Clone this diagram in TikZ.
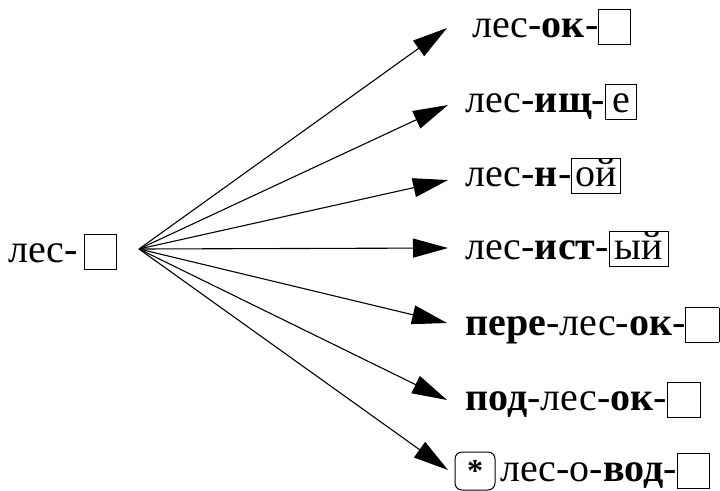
\documentclass[tikz,border=0pt]{standalone}
\usepackage{fontspec}
\setmainfont{Liberation Serif}
\usetikzlibrary{arrows.meta}
\newcommand\sqbox[2]{{\setlength\fboxsep{0pt}\setlength\fboxrule{0.9pt}\raisebox{-7pt}{\framebox[#1]{\rule{0pt}{34pt}\raisebox{7pt}{#2}}}}}
\newcommand\hy{-}
\begin{document}
\begin{tikzpicture}[x=1pt,y=-1pt,
  lbl/.style={anchor=base west,inner sep=0pt,font=\fontsize{40}{44}\selectfont},
  arr/.style={line width=1.1pt,-{Triangle[length=35pt,width=19pt]}},
  starbox/.style={draw,line width=1pt,rounded corners=7pt,minimum width=40pt,minimum height=38pt,inner sep=0pt,font=\fontsize{32}{32}\selectfont\bfseries}]
\useasboundingbox (0,0) rectangle (720,490);
\node[lbl] (src) at (8,262) {лес\hy\kern6pt\sqbox{33pt}{}};
\coordinate (o) at (139,249);
\node[lbl] (l1) at (472,37) {лес\hy\textbf{ок}\hy\sqbox{33pt}{}};
\node[lbl] (l2) at (465,112) {лес\hy\textbf{ищ}\hy\sqbox{32pt}{е}};
\node[lbl] (l3) at (465,186) {лес\hy\textbf{н}\hy\sqbox{50pt}{ой}};
\node[lbl] (l4) at (465,259) {лес\hy\textbf{ист}\hy\sqbox{60pt}{ый}};
\node[lbl] (l5) at (465,335) {\textbf{пере}\hy лес\hy\textbf{ок}\hy\sqbox{34pt}{}};
\node[lbl] (l6) at (465,410) {\textbf{под}\hy лес\hy\textbf{ок}\hy\sqbox{34pt}{}};
\node[starbox] (st) at (475,471) {\raisebox{-6pt}{*}};
\node[lbl] (l7) at (500,481) {лес\hy о\hy\textbf{вод}\hy\sqbox{33pt}{}};
\coordinate (t1) at (447,28);
\coordinate (t2) at (448,105);
\coordinate (t3) at (448,180);
\coordinate (t4) at (448,248);
\coordinate (t5) at (447,323);
\coordinate (t6) at (447,400);
\coordinate (t7) at (448,470);
\foreach \i in {1,...,7} \draw[arr] (o) -- (t\i);
\end{tikzpicture}
\end{document}
